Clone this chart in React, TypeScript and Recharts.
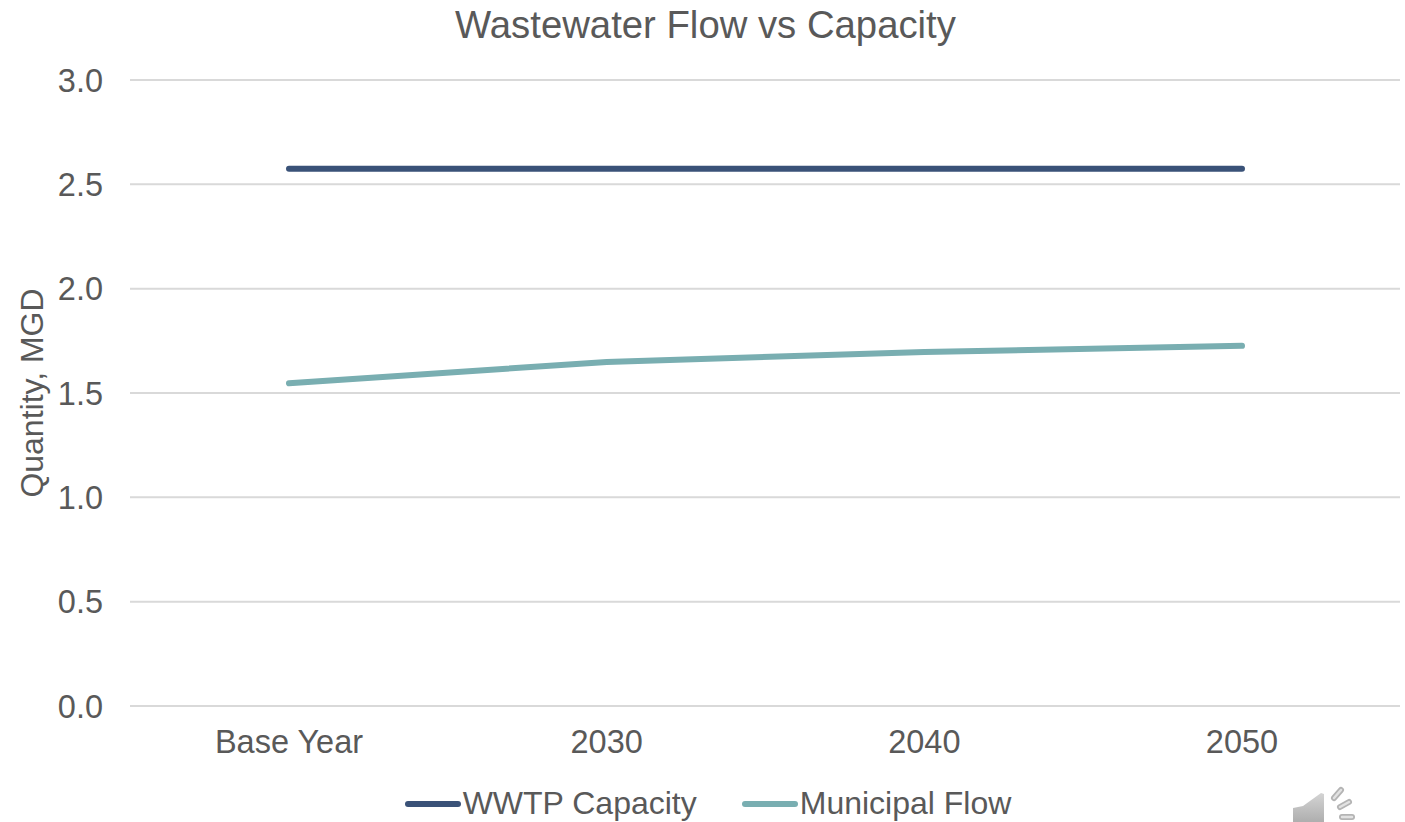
import { CartesianGrid, Legend, Line, LineChart, XAxis, YAxis } from "recharts";

const categories = ["Base Year", "2030", "2040", "2050"];
const wwtpCapacity = [2.575, 2.575, 2.575, 2.575];
const municipalFlow = [1.547, 1.649, 1.696, 1.726];
const yTicks = [0, 0.5, 1, 1.5, 2, 2.5, 3];

const TEXT = "#595959";
const GRID = "#d9d9d9";
const FONT = "'Liberation Sans', Arial, sans-serif";

const data = categories.map((name, i) => ({
  name,
  capacity: wwtpCapacity[i],
  flow: municipalFlow[i],
}));

const ChartLegend = ({ payload }: any) => (
  <div style={{ display: "flex", justifyContent: "center", alignItems: "center", height: 46, paddingTop: 9, paddingLeft: 16, boxSizing: "border-box" }}>
    {(payload || []).map((item: any, index: number) => (
      <div key={item.value} style={{ display: "flex", alignItems: "center", marginLeft: index ? 45 : 0 }}>
        <div style={{ width: 56, height: 6, borderRadius: 3, background: item.color, marginRight: 2 }}></div>
        <span style={{ fontFamily: FONT, fontSize: 32, color: TEXT }}>{item.value}</span>
      </div>
    ))}
  </div>
);

// greyed-out speaker mark in the bottom corner
const SpeakerIcon = () => (
  <svg width={70} height={40} style={{ position: "absolute", left: 1290, top: 782 }}>
    <defs>
      <linearGradient id="speaker" x1="0" y1="0" x2="0" y2="1">
        <stop offset="0%" stopColor="#d4d4d4" />
        <stop offset="100%" stopColor="#aeaeae" />
      </linearGradient>
    </defs>
    <path d="M3 26 L13 24 L31 11 L34 12 L34 40 L3 40 Z" fill="url(#speaker)" />
    <g strokeLinecap="round">
      <g stroke="#b4b4b4" strokeWidth={6}>
        <line x1={44} y1={16} x2={51} y2={8} />
        <line x1={50} y1={25} x2={59} y2={20} />
        <line x1={52} y1={35} x2={62} y2={35} />
      </g>
      <g stroke="#e2e2e2" strokeWidth={2.5}>
        <line x1={44} y1={16} x2={51} y2={8} />
        <line x1={50} y1={25} x2={59} y2={20} />
        <line x1={52} y1={35} x2={62} y2={35} />
      </g>
    </g>
  </svg>
);

export default function App() {
  return (
    <div style={{ position: "absolute", left: 0, top: 0, width: 1405, height: 822, overflow: "hidden" }}>
      <LineChart
        width={1405}
        height={822}
        data={data}
        margin={{ top: 80, right: 5, bottom: 0, left: 0 }}
      >
        <text
          x={705.5}
          y={38}
          textAnchor="middle"
          fontFamily={FONT}
          fontSize={38.3}
          fill={TEXT}
        >
          Wastewater Flow vs Capacity
        </text>
        <CartesianGrid vertical={false} stroke={GRID} strokeWidth={2} />
        <XAxis
          dataKey="name"
          height={70}
          padding={{ left: 159, right: 158 }}
          axisLine={{ stroke: GRID, strokeWidth: 2 }}
          tickLine={false}
          tickMargin={18}
          tick={{ fontFamily: FONT, fontSize: 32.5, fill: TEXT }}
        />
        <YAxis
          width={130}
          domain={[0, 3]}
          ticks={yTicks}
          tickFormatter={(v: number) => v.toFixed(1)}
          axisLine={false}
          tickLine={false}
          tickMargin={21}
          tick={{ fontFamily: FONT, fontSize: 32.5, fill: TEXT }}
          label={{
            value: "Quantity, MGD",
            angle: -90,
            position: "insideLeft",
            offset: 0,
            dx: 32,
            style: { fontFamily: FONT, fontSize: 32, fill: TEXT, textAnchor: "middle" },
          }}
        />
        <Legend verticalAlign="bottom" height={46} itemSorter={null} content={<ChartLegend />} />
        <Line
          dataKey="capacity"
          name="WWTP Capacity"
          stroke="#3a5278"
          strokeWidth={6}
          strokeLinecap="round"
          dot={false}
          isAnimationActive={false}
        />
        <Line
          dataKey="flow"
          name="Municipal Flow"
          stroke="#79aeb1"
          strokeWidth={6}
          strokeLinecap="round"
          dot={false}
          isAnimationActive={false}
        />
      </LineChart>
      <SpeakerIcon />
    </div>
  );
}
